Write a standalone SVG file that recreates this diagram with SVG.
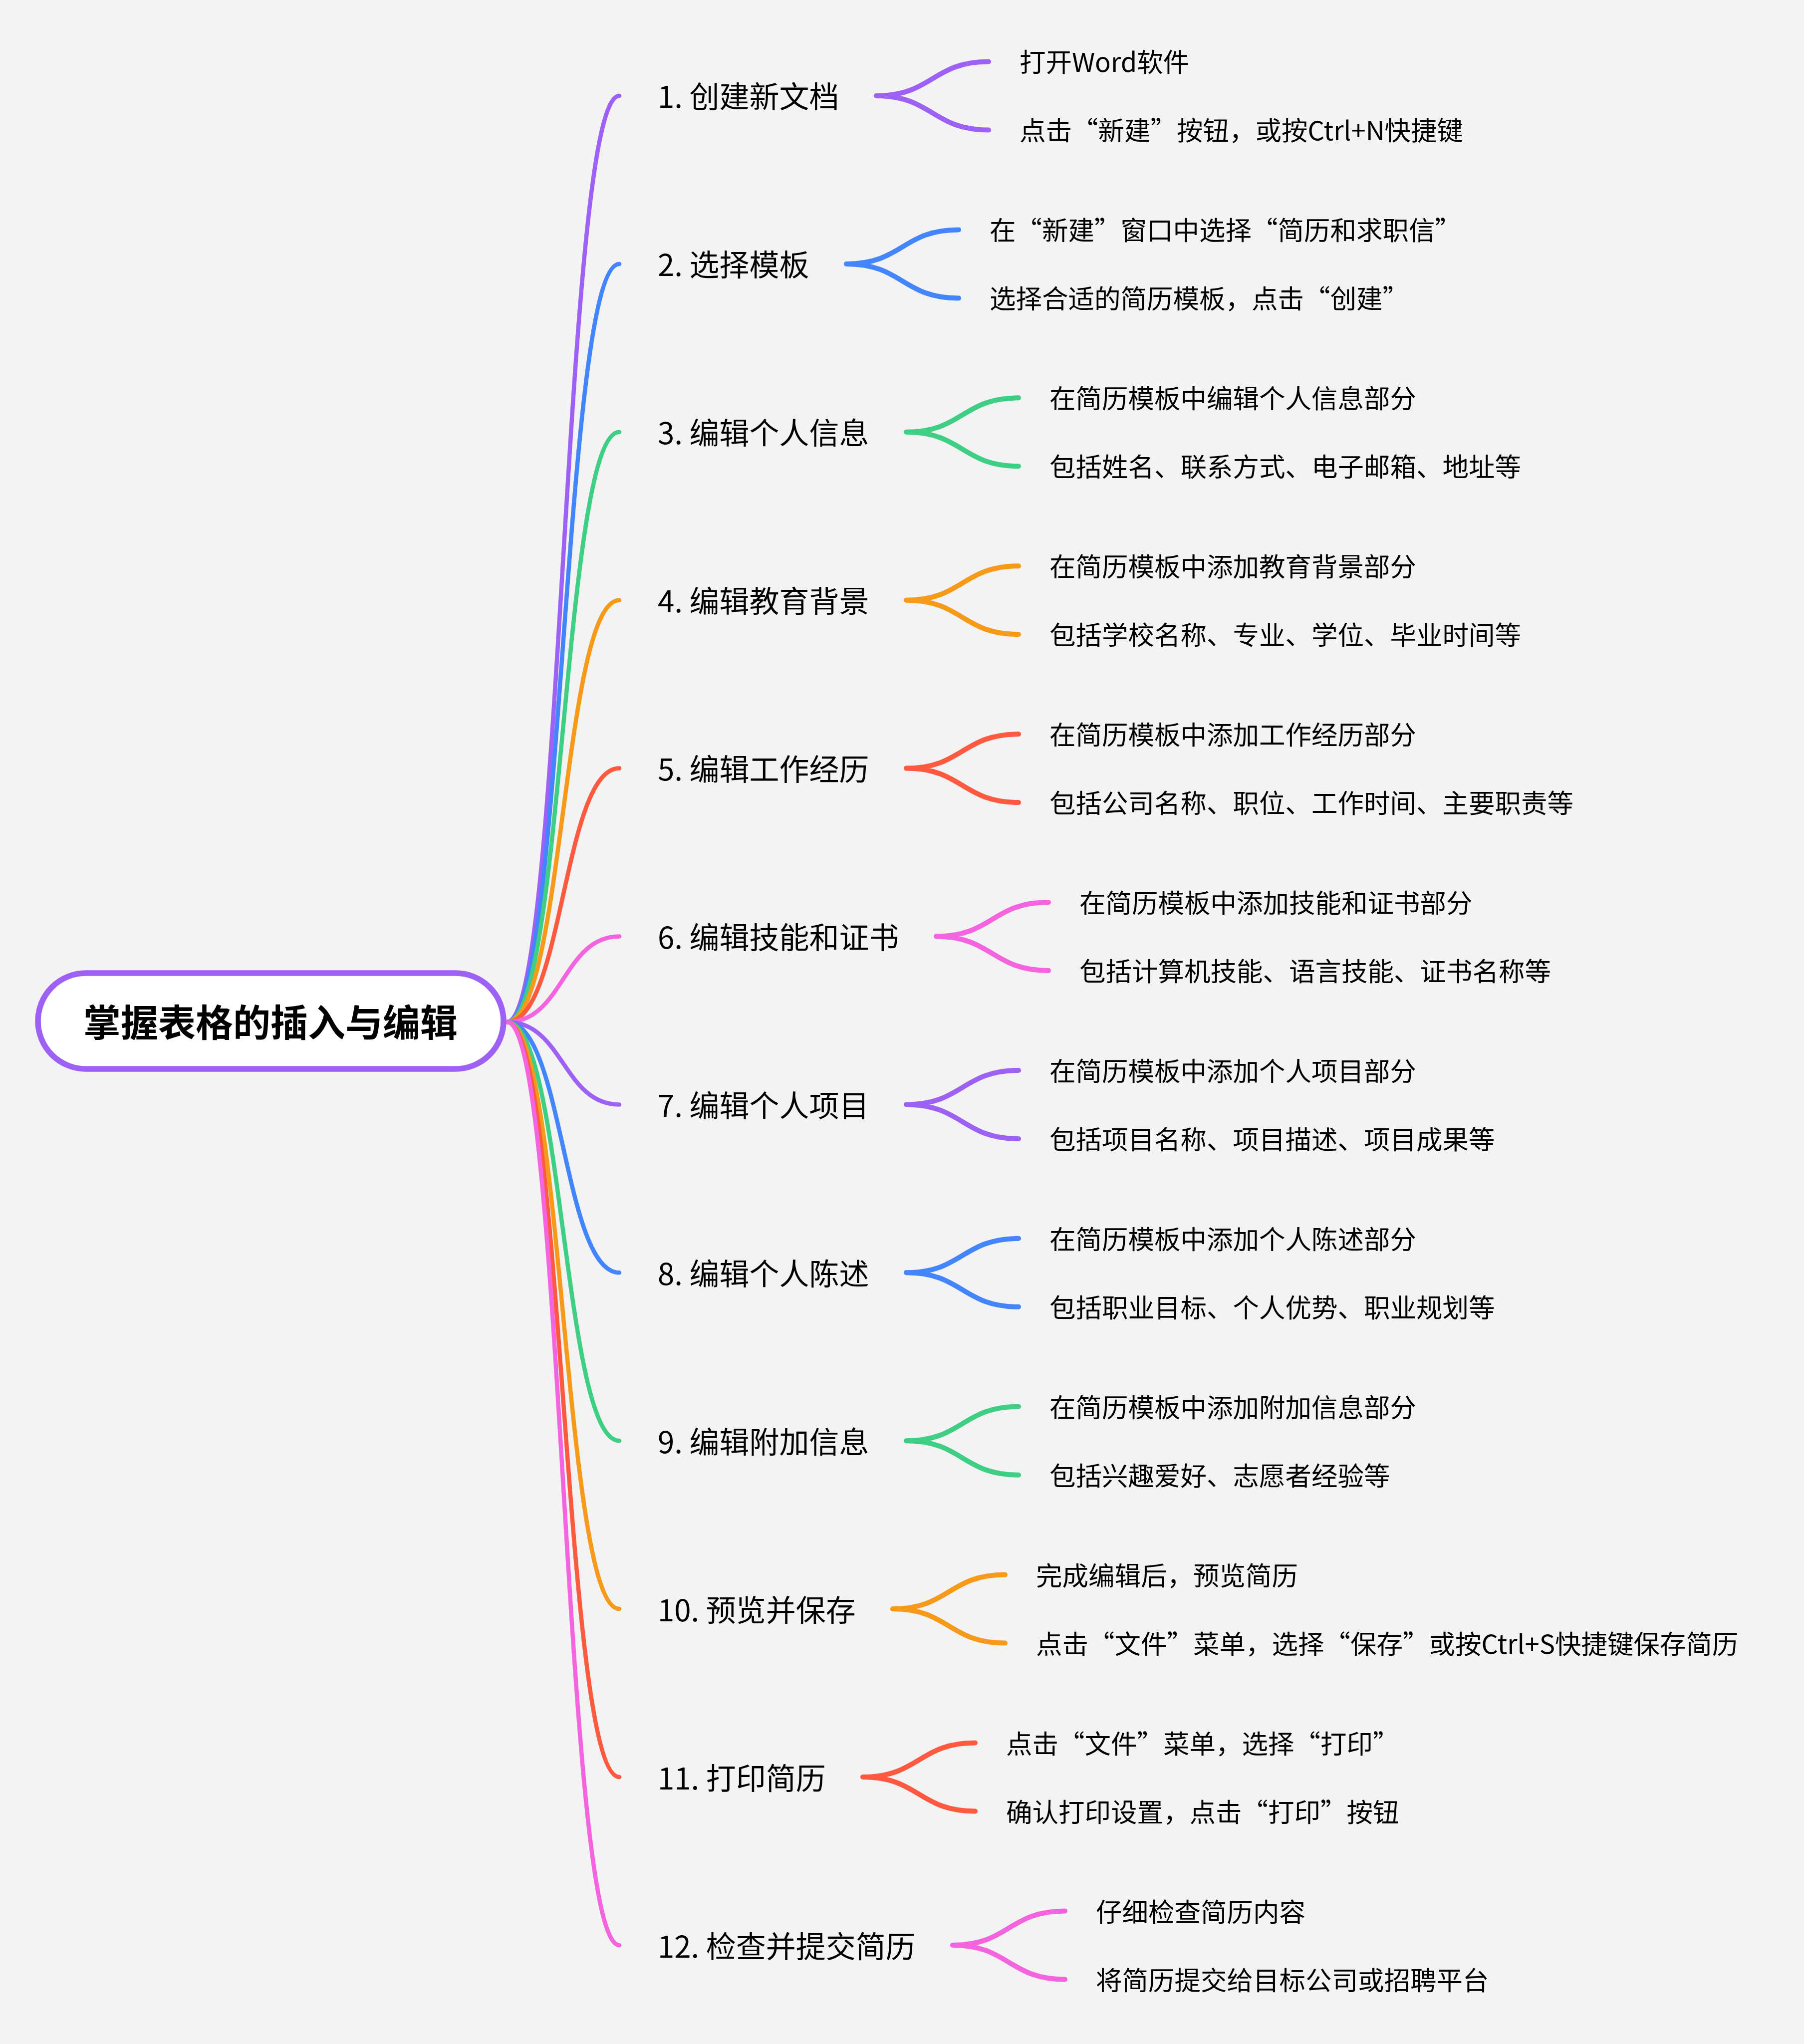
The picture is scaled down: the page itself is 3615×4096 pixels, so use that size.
<svg xmlns="http://www.w3.org/2000/svg" width="3615" height="4096" viewBox="0 0 3615 4096">
<style>
text{font-family:"Noto Sans CJK SC","Noto Sans",sans-serif;fill:#000;dominant-baseline:central}
.root{font-size:75px;font-weight:bold;text-anchor:middle}
.l1{font-size:60px}
.l2{font-size:52.5px}
.c path{fill:none;stroke-linecap:round}
.m path{stroke-width:8.5}
.b path{stroke-width:10}
.p{stroke:#9D62F5}.u{stroke:#4285FF}.g{stroke:#3ECF85}.o{stroke:#F79A1A}.r{stroke:#FF5A40}.k{stroke:#F564DF}
</style>
<rect width="3615" height="4096" fill="#F3F3F3"/>
<g id="connectors" class="c">
<g class="m">
<path class="p" d="M1016 2048C1128.5 2048 1128.5 192 1241 192"/>
<path class="u" d="M1016 2048C1128.5 2048 1128.5 528.9 1241 528.9"/>
<path class="g" d="M1016 2048C1128.5 2048 1128.5 865.8 1241 865.8"/>
<path class="o" d="M1016 2048C1128.5 2048 1128.5 1202.7 1241 1202.7"/>
<path class="r" d="M1016 2048C1128.5 2048 1128.5 1539.6 1241 1539.6"/>
<path class="k" d="M1016 2048C1128.5 2048 1128.5 1876.5 1241 1876.5"/>
<path class="p" d="M1016 2048C1128.5 2048 1128.5 2213.4 1241 2213.4"/>
<path class="u" d="M1016 2048C1128.5 2048 1128.5 2550.3 1241 2550.3"/>
<path class="g" d="M1016 2048C1128.5 2048 1128.5 2887.2 1241 2887.2"/>
<path class="o" d="M1016 2048C1128.5 2048 1128.5 3224.1 1241 3224.1"/>
<path class="r" d="M1016 2048C1128.5 2048 1128.5 3561 1241 3561"/>
<path class="k" d="M1016 2048C1128.5 2048 1128.5 3897.9 1241 3897.9"/>
</g>
<g class="b">
<path class="p" d="M1756 192C1868.5 192 1868.5 123.5 1981 123.5M1756 192C1868.5 192 1868.5 260.5 1981 260.5"/>
<path class="u" d="M1696 528.9C1808.5 528.9 1808.5 460.4 1921 460.4M1696 528.9C1808.5 528.9 1808.5 597.4 1921 597.4"/>
<path class="g" d="M1816 865.8C1928.5 865.8 1928.5 797.3 2041 797.3M1816 865.8C1928.5 865.8 1928.5 934.3 2041 934.3"/>
<path class="o" d="M1816 1202.7C1928.5 1202.7 1928.5 1134.2 2041 1134.2M1816 1202.7C1928.5 1202.7 1928.5 1271.2 2041 1271.2"/>
<path class="r" d="M1816 1539.6C1928.5 1539.6 1928.5 1471.1 2041 1471.1M1816 1539.6C1928.5 1539.6 1928.5 1608.1 2041 1608.1"/>
<path class="k" d="M1876 1876.5C1988.5 1876.5 1988.5 1808 2101 1808M1876 1876.5C1988.5 1876.5 1988.5 1945 2101 1945"/>
<path class="p" d="M1816 2213.4C1928.5 2213.4 1928.5 2144.9 2041 2144.9M1816 2213.4C1928.5 2213.4 1928.5 2281.9 2041 2281.9"/>
<path class="u" d="M1816 2550.3C1928.5 2550.3 1928.5 2481.8 2041 2481.8M1816 2550.3C1928.5 2550.3 1928.5 2618.8 2041 2618.8"/>
<path class="g" d="M1816 2887.2C1928.5 2887.2 1928.5 2818.7 2041 2818.7M1816 2887.2C1928.5 2887.2 1928.5 2955.7 2041 2955.7"/>
<path class="o" d="M1789 3224.1C1901.5 3224.1 1901.5 3155.6 2014 3155.6M1789 3224.1C1901.5 3224.1 1901.5 3292.6 2014 3292.6"/>
<path class="r" d="M1729 3561C1841.5 3561 1841.5 3492.5 1954 3492.5M1729 3561C1841.5 3561 1841.5 3629.5 1954 3629.5"/>
<path class="k" d="M1909 3897.9C2021.5 3897.9 2021.5 3829.4 2134 3829.4M1909 3897.9C2021.5 3897.9 2021.5 3966.4 2134 3966.4"/>
</g>
</g>
<g id="root">
<rect x="76" y="1950" width="933" height="192" rx="96" fill="#FFFFFF" stroke="#9D62F5" stroke-width="11.5"/>
<text class="root" x="542" y="2044">掌握表格的插入与编辑</text>
</g>
<g id="n1"><text class="l1" x="1318" y="189">1. 创建新文档</text></g>
<g id="n1a"><text class="l2" x="2043" y="121">打开Word软件</text></g>
<g id="n1b"><text class="l2" x="2043" y="258">点击“新建”按钮，或按Ctrl+N快捷键</text></g>
<g id="n2"><text class="l1" x="1318" y="526">2. 选择模板</text></g>
<g id="n2a"><text class="l2" x="1983" y="458">在“新建”窗口中选择“简历和求职信”</text></g>
<g id="n2b"><text class="l2" x="1983" y="595">选择合适的简历模板，点击“创建”</text></g>
<g id="n3"><text class="l1" x="1318" y="863">3. 编辑个人信息</text></g>
<g id="n3a"><text class="l2" x="2103" y="795">在简历模板中编辑个人信息部分</text></g>
<g id="n3b"><text class="l2" x="2103" y="932">包括姓名、联系方式、电子邮箱、地址等</text></g>
<g id="n4"><text class="l1" x="1318" y="1200">4. 编辑教育背景</text></g>
<g id="n4a"><text class="l2" x="2103" y="1132">在简历模板中添加教育背景部分</text></g>
<g id="n4b"><text class="l2" x="2103" y="1269">包括学校名称、专业、学位、毕业时间等</text></g>
<g id="n5"><text class="l1" x="1318" y="1537">5. 编辑工作经历</text></g>
<g id="n5a"><text class="l2" x="2103" y="1469">在简历模板中添加工作经历部分</text></g>
<g id="n5b"><text class="l2" x="2103" y="1606">包括公司名称、职位、工作时间、主要职责等</text></g>
<g id="n6"><text class="l1" x="1318" y="1874">6. 编辑技能和证书</text></g>
<g id="n6a"><text class="l2" x="2163" y="1806">在简历模板中添加技能和证书部分</text></g>
<g id="n6b"><text class="l2" x="2163" y="1943">包括计算机技能、语言技能、证书名称等</text></g>
<g id="n7"><text class="l1" x="1318" y="2211">7. 编辑个人项目</text></g>
<g id="n7a"><text class="l2" x="2103" y="2143">在简历模板中添加个人项目部分</text></g>
<g id="n7b"><text class="l2" x="2103" y="2280">包括项目名称、项目描述、项目成果等</text></g>
<g id="n8"><text class="l1" x="1318" y="2548">8. 编辑个人陈述</text></g>
<g id="n8a"><text class="l2" x="2103" y="2480">在简历模板中添加个人陈述部分</text></g>
<g id="n8b"><text class="l2" x="2103" y="2617">包括职业目标、个人优势、职业规划等</text></g>
<g id="n9"><text class="l1" x="1318" y="2885">9. 编辑附加信息</text></g>
<g id="n9a"><text class="l2" x="2103" y="2817">在简历模板中添加附加信息部分</text></g>
<g id="n9b"><text class="l2" x="2103" y="2954">包括兴趣爱好、志愿者经验等</text></g>
<g id="n10"><text class="l1" x="1318" y="3222">10. 预览并保存</text></g>
<g id="n10a"><text class="l2" x="2076" y="3154">完成编辑后，预览简历</text></g>
<g id="n10b"><text class="l2" x="2076" y="3291">点击“文件”菜单，选择“保存”或按Ctrl+S快捷键保存简历</text></g>
<g id="n11"><text class="l1" x="1318" y="3559">11. 打印简历</text></g>
<g id="n11a"><text class="l2" x="2016" y="3491">点击“文件”菜单，选择“打印”</text></g>
<g id="n11b"><text class="l2" x="2016" y="3628">确认打印设置，点击“打印”按钮</text></g>
<g id="n12"><text class="l1" x="1318" y="3896">12. 检查并提交简历</text></g>
<g id="n12a"><text class="l2" x="2196" y="3828">仔细检查简历内容</text></g>
<g id="n12b"><text class="l2" x="2196" y="3965">将简历提交给目标公司或招聘平台</text></g>
</svg>
